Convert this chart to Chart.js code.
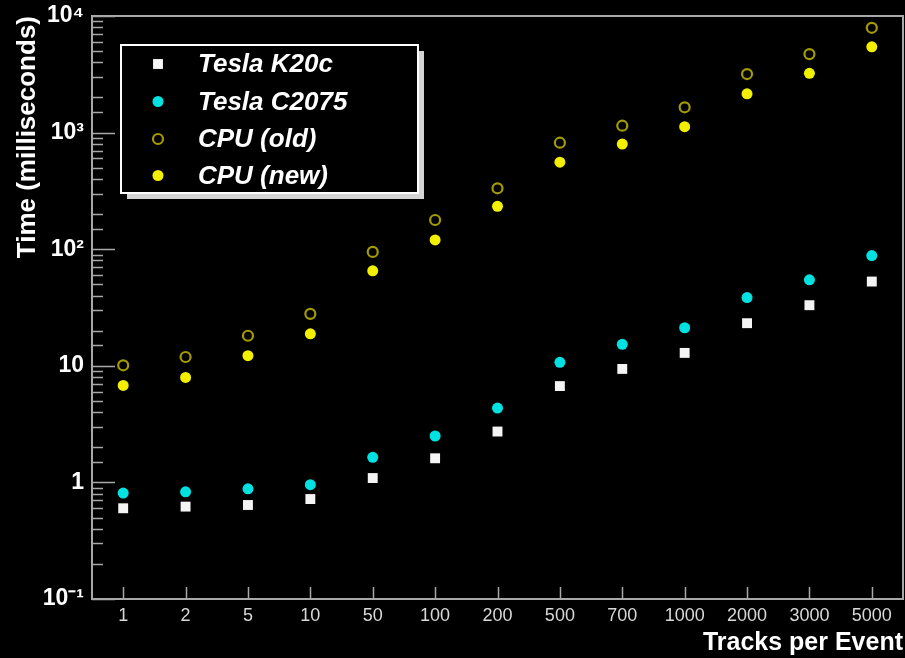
<!DOCTYPE html>
<html>
<head>
<meta charset="utf-8">
<script src="https://cdn.jsdelivr.net/npm/chart.js@4/dist/chart.umd.min.js"></script>
<style>
  html, body { margin: 0; padding: 0; background: #000; }
  #wrap { width: 905px; height: 658px; }
</style>
</head>
<body>
<div id="wrap"><canvas id="c" width="905" height="658"></canvas></div>
<script>
// data (log scale, ms)
const tracks = ['1', '2', '5', '10', '50', '100', '200', '500', '700', '1000', '2000', '3000', '5000'];
const teslaK20c = [0.60, 0.62, 0.64, 0.72, 1.09, 1.61, 2.73, 6.7, 9.4, 12.9, 23.2, 33.1, 52.8];
const teslaC2075 = [0.81, 0.83, 0.88, 0.955, 1.64, 2.50, 4.34, 10.7, 15.3, 21.2, 38.5, 54.6, 88.1];
const cpuOld = [10.1, 11.9, 18.1, 27.9, 94.8, 178, 333, 819, 1146, 1648, 3178, 4714, 7925];
const cpuNew = [6.78, 7.94, 12.2, 18.8, 65.2, 120, 233, 557, 798, 1124, 2153, 3222, 5445];
const yLabels = { '0.1': '10⁻¹', '1': '1', '10': '10', '100': '10²', '1000': '10³', '10000': '10⁴' };

const FONT = "'Liberation Sans', Arial, Helvetica, sans-serif";
const axisGray = '#a8a8a8';

// frame + inward ticks, ROOT style
const frameTicks = {
  id: 'frameTicks',
  beforeDatasetsDraw(chart) {
    const { ctx, chartArea: a, scales: { x, y } } = chart;
    ctx.save();
    ctx.strokeStyle = axisGray;
    ctx.lineWidth = 1.5;
    y.ticks.forEach(t => {
      const py = Math.round(y.getPixelForValue(t.value)) + 0.5;
      const lg = Math.log10(t.value);
      const major = Math.abs(lg - Math.round(lg)) < 1e-6;
      ctx.beginPath();
      ctx.moveTo(a.left, py);
      ctx.lineTo(a.left + (major ? 23 : 11), py);
      ctx.stroke();
    });
    tracks.forEach((_, i) => {
      const px = Math.round(x.getPixelForValue(i)) + 0.5;
      ctx.beginPath();
      ctx.moveTo(px, a.bottom);
      ctx.lineTo(px, a.bottom - 12);
      ctx.stroke();
    });
    ctx.lineWidth = 2;
    ctx.strokeRect(a.left, a.top, a.right - a.left, a.bottom - a.top);
    ctx.restore();
  }
};

// boxed legend with drop shadow
const boxLegend = {
  id: 'boxLegend',
  afterDraw(chart) {
    const { ctx } = chart;
    const bx = 121, by = 45, bw = 297, bh = 148;
    ctx.save();
    ctx.fillStyle = '#d4d4d4';
    ctx.fillRect(bx + 6, by + 6, bw, bh);
    ctx.fillStyle = '#000';
    ctx.fillRect(bx, by, bw, bh);
    ctx.strokeStyle = '#ffffff';
    ctx.lineWidth = 2;
    ctx.strokeRect(bx, by, bw, bh);
    const rows = [64, 101.5, 139, 175.5];
    ctx.font = "italic bold 26px " + FONT;
    ctx.textBaseline = 'middle';
    chart.data.datasets.forEach((ds, i) => {
      ctx.fillStyle = ds.pointBackgroundColor;
      ctx.strokeStyle = ds.pointBorderColor;
      ctx.lineWidth = ds.pointBorderWidth;
      Chart.helpers.drawPoint(ctx, { pointStyle: ds.pointStyle, radius: ds.pointRadius, borderWidth: ds.pointBorderWidth, rotation: 0 }, 158, rows[i]);
      ctx.fillStyle = '#ffffff';
      ctx.fillText(ds.label, 198, rows[i] + 1);
    });
    ctx.restore();
  }
};

function series(label, data, style, radius, fill, border, bw) {
  return {
    label, data, showLine: false,
    pointStyle: style, pointRadius: radius, pointHoverRadius: radius,
    pointBackgroundColor: fill, pointBorderColor: border, pointBorderWidth: bw,
    backgroundColor: fill, borderColor: border
  };
}

new Chart(document.getElementById('c'), {
  type: 'line',
  data: {
    labels: tracks,
    datasets: [
      series('Tesla K20c', teslaK20c, 'rect', 7, '#f4f4f4', '#f4f4f4', 0),
      series('Tesla C2075', teslaC2075, 'circle', 5.5, '#00e2e2', '#00e2e2', 0),
      series('CPU (old)', cpuOld, 'circle', 5, 'rgba(0,0,0,0)', '#a39b00', 2.2),
      series('CPU (new)', cpuNew, 'circle', 5.5, '#f2ef00', '#f2ef00', 0)
    ]
  },
  options: {
    responsive: false,
    animation: false,
    events: [],
    layout: { autoPadding: false, padding: { top: 16, right: 2, left: 0, bottom: 0 } },
    plugins: { legend: { display: false }, tooltip: { enabled: false } },
    scales: {
      x: {
        type: 'category',
        offset: true,
        grid: { display: false, drawTicks: false },
        border: { display: false },
        ticks: { color: '#d8d8d8', font: { family: FONT, size: 18 }, padding: 6, maxRotation: 0, autoSkip: false },
        title: { display: true, text: 'Tracks per Event', align: 'end', color: '#ffffff',
                 font: { family: FONT, size: 25, weight: 'bold' }, padding: { top: 0, bottom: 0 } },
        afterFit(s) { s.height = 59; s.paddingLeft = 0; s.paddingRight = 0; }
      },
      y: {
        type: 'logarithmic',
        min: 0.1, max: 10000,
        grid: { display: false, drawTicks: false },
        border: { display: false },
        ticks: {
          color: '#ffffff', font: { family: FONT, size: 23, weight: 'bold' }, padding: 8, autoSkip: false,
          callback: v => yLabels[String(v)] || ''
        },
        title: { display: true, text: 'Time (milliseconds)', align: 'end', color: '#ffffff',
                 font: { family: FONT, size: 26, weight: 'bold' }, padding: { top: 12, bottom: 0 } },
        afterFit(s) { s.width = 92; s.paddingTop = 0; s.paddingBottom = 0; }
      }
    }
  },
  plugins: [frameTicks, boxLegend]
});
</script>
</body>
</html>
